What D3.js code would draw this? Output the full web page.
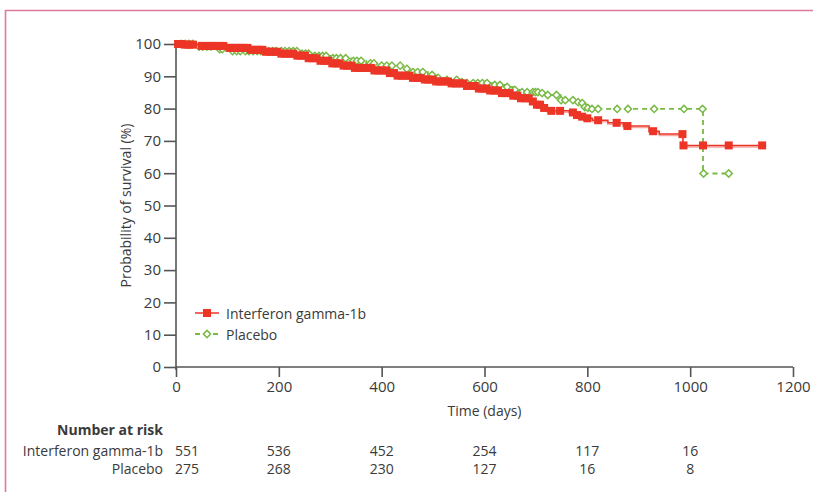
<!DOCTYPE html>
<html>
<head>
<meta charset="utf-8">
<title>Survival curve</title>
<script src="https://cdn.jsdelivr.net/npm/d3@7"></script>
<style>
	body { margin: 0; background: #fff; }
	text { font-family: "Open Sans", sans-serif; fill: #3a3a3a; }
	.axis line { stroke: #555; stroke-width: 1.6; }
</style>
</head>
<body>
<div id="chart"></div>
<script>
var width = 813, height = 492;

// Kaplan-Meier steps: [time (days), survival (%)]
var ifnSteps = [[0,100],[15,99.8],[45,99.4],[95,98.8],[140,98.2],[170,97.6],[200,97.0],[230,96.4],
	[255,95.6],[280,94.8],[300,94.0],[320,93.3],[345,92.6],[380,91.8],[410,91.0],[430,90.2],
	[455,89.5],[480,89.0],[505,88.4],[535,87.8],[560,87.0],[585,86.2],[610,85.6],[630,84.8],
	[650,84.0],[670,83.2],[690,82.2],[700,81.2],[710,80.2],[722,79.3],[765,78.8],[776,78.0],
	[785,77.5],[795,77.0],[810,76.4],[840,75.6],[870,74.6],[920,73.0],[940,72.1],[986,68.6]];
var placeboSteps = [[0,100],[40,99.2],[75,98.4],[100,97.8],[240,97.0],[265,96.3],[300,95.6],
	[340,94.8],[370,94.0],[395,93.3],[440,92.3],[455,91.3],[490,90.4],[505,89.5],[520,88.9],
	[550,88.2],[560,87.9],[615,87.3],[640,86.7],[655,85.8],[668,85.1],[710,84.8],[720,84.2],
	[748,82.6],[780,82.0],[788,81.7],[793,80.5],[800,80.2],[806,79.9],[1025,59.9]];

// censored observations (days)
var ifnCensor = [4,10,18,25,33,50,56,63,70,77,84,92,104,110,117,124,131,139,146,153,161,168,
	175,183,190,197,205,213,221,228,236,243,251,258,266,273,281,289,296,304,311,318,326,333,
	341,348,356,363,371,379,386,394,401,409,416,424,431,439,446,454,461,469,476,484,491,499,
	506,514,521,529,536,544,551,559,566,574,581,589,596,604,611,619,626,634,641,649,656,664,
	671,679,686,694,702,708,716,730,747,772,780,790,800,821,857,878,928,985,987,1025,1075,1140];
var placeboCensor = [10,18,25,33,45,52,60,68,85,90,110,118,125,135,142,150,158,165,172,180,188,
	195,205,212,220,228,235,245,252,258,270,278,285,292,305,312,320,330,345,352,360,378,385,
	400,410,420,436,449,461,470,480,498,510,527,546,556,566,578,587,596,605,620,630,644,659,
	673,683,694,699,704,712,723,740,749,757,772,782,790,795,801,809,821,858,879,930,988,1024,
	1026,1075];

var xTicks = [0,200,400,600,800,1000,1200];
var yTicks = [0,10,20,30,40,50,60,70,80,90,100];
var riskGroups = ["Interferon gamma-1b", "Placebo"];
var ifnRisk = [551,536,452,254,117,16];
var placeboRisk = [275,268,230,127,16,8];

var red = "#ec3526", green = "#79b944";

var svg = d3.select("#chart").append("svg")
	.attr("width", width).attr("height", height);

// pink frame
svg.append("path")
	.attr("d", "M5.5," + height + "V10.5H" + width)
	.attr("fill", "none").attr("stroke", "#e0789a").attr("stroke-width", 1.6);

var x = d3.scaleLinear().domain([0, 1200]).range([176, 793]);
var y = d3.scaleLinear().domain([0, 100]).range([367, 44]);

var gx = svg.append("g").attr("class", "axis")
	.attr("transform", "translate(0,367)")
	.call(d3.axisBottom(x).tickValues(xTicks).tickFormat(d3.format("d"))
		.tickSize(10).tickPadding(4).tickSizeOuter(0));
var gy = svg.append("g").attr("class", "axis")
	.attr("transform", "translate(176,0)")
	.call(d3.axisLeft(y).tickValues(yTicks).tickSize(12).tickPadding(3).tickSizeOuter(0));
svg.selectAll(".axis .domain").remove();
svg.selectAll(".axis").attr("font-size", null).attr("font-family", null);
svg.selectAll(".axis text").style("font-size", "15px").style("fill", "#3a3a3a");
svg.append("line").attr("x1", 176).attr("x2", 176).attr("y1", y(100)).attr("y2", 370)
	.attr("stroke", "#555").attr("stroke-width", 1.6);
svg.append("line").attr("x1", 176).attr("x2", x(1200)).attr("y1", 367).attr("y2", 367)
	.attr("stroke", "#555").attr("stroke-width", 1.6);

svg.append("text")
	.attr("transform", "translate(125," + y(50) + ") rotate(-90)")
	.attr("text-anchor", "middle").attr("dominant-baseline", "central")
	.style("font-size", "14px")
	.text("Probability of survival (%)");

svg.append("text")
	.attr("x", x(600)).attr("y", 416)
	.attr("text-anchor", "middle").style("font-size", "14px")
	.text("Time (days)");

function survAt(steps, t) {
	var s = steps[0][1];
	for (var i = 0; i < steps.length; i++) if (steps[i][0] <= t) s = steps[i][1];
	return s;
}

var step = d3.line().curve(d3.curveStepAfter)
	.x(function(d) { return x(d[0]); })
	.y(function(d) { return y(d[1]); });

var ifnPath = ifnSteps.concat([[d3.max(ifnCensor), survAt(ifnSteps, d3.max(ifnCensor))]]);
var plPath = placeboSteps.concat([[d3.max(placeboCensor), survAt(placeboSteps, d3.max(placeboCensor))]]);

// placebo curve
svg.append("path").attr("d", step(plPath))
	.attr("fill", "none").attr("stroke", green).attr("stroke-width", 1.8)
	.attr("stroke-dasharray", "5,4");
svg.append("g").selectAll("path").data(placeboCensor).enter().append("path")
	.attr("d", d3.symbol().type(d3.symbolSquare).size(26))
	.attr("transform", function(t) {
		return "translate(" + x(t) + "," + y(survAt(placeboSteps, t)) + ") rotate(45)";
	})
	.attr("fill", "#fff").attr("stroke", green).attr("stroke-width", 1.5);

// interferon curve
svg.append("path").attr("d", step(ifnPath))
	.attr("transform", "translate(0,1.5)")
	.attr("fill", "none").attr("stroke", "#f5aaa4").attr("stroke-width", 1.5);
svg.append("path").attr("d", step(ifnPath))
	.attr("fill", "none").attr("stroke", red).attr("stroke-width", 1.5);
svg.append("g").selectAll("rect").data(ifnCensor).enter().append("rect")
	.attr("x", function(t) { return x(t) - 4; })
	.attr("y", function(t) { return y(survAt(ifnSteps, t)) - 4; })
	.attr("width", 8).attr("height", 8)
	.attr("fill", red);

// legend
var leg = svg.append("g").attr("transform", "translate(195,313)");
leg.append("line").attr("x1", 0).attr("x2", 24).attr("stroke", red).attr("stroke-width", 1.5);
leg.append("rect").attr("x", 8).attr("y", -4).attr("width", 8).attr("height", 8).attr("fill", red);
leg.append("text").attr("x", 31).attr("y", 0).attr("dominant-baseline", "central")
	.style("font-size", "14px").text(riskGroups[0]);
leg.append("line").attr("x1", 0).attr("x2", 24).attr("y1", 21).attr("y2", 21)
	.attr("stroke", green).attr("stroke-width", 1.8).attr("stroke-dasharray", "5,4");
leg.append("path").attr("d", d3.symbol().type(d3.symbolSquare).size(26))
	.attr("transform", "translate(12,21) rotate(45)")
	.attr("fill", "#fff").attr("stroke", green).attr("stroke-width", 1.5);
leg.append("text").attr("x", 31).attr("y", 21).attr("dominant-baseline", "central")
	.style("font-size", "14px").text(riskGroups[1]);

// number at risk table
svg.append("text").attr("x", 163).attr("y", 435).attr("text-anchor", "end")
	.style("font-size", "14px").style("font-weight", "bold").text("Number at risk");
var rows = [ifnRisk, placeboRisk];
rows.forEach(function(vals, r) {
	var yy = 456 + r * 18;
	svg.append("text").attr("x", 163).attr("y", yy).attr("text-anchor", "end")
		.style("font-size", "14px").text(riskGroups[r]);
	svg.append("g").selectAll("text").data(vals).enter().append("text")
		.attr("x", function(v, i) { return x(xTicks[i]) + (i === 0 ? 11 : 0); })
		.attr("y", yy).attr("text-anchor", "middle")
		.style("font-size", "14px").text(function(v) { return v; });
});
</script>
</body>
</html>
